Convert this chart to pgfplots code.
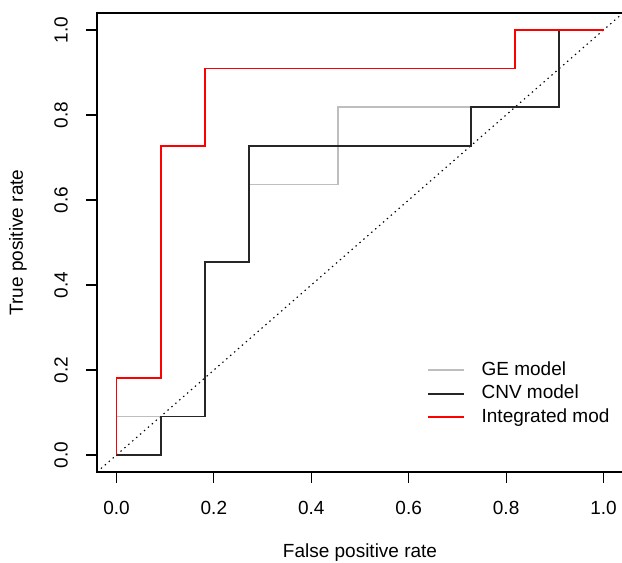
\documentclass[border=0pt]{standalone}
\usepackage{pgfplots}
\pgfplotsset{compat=1.18}
\usepackage{fontspec}
\setmainfont{Liberation Sans}
\definecolor{gegray}{RGB}{190,190,190}
\begin{document}
\fontsize{19}{22}\selectfont
\begin{tikzpicture}
\useasboundingbox (0,0) rectangle (622pt,563pt);
\begin{axis}[
  at={(97pt,91pt)}, anchor=south west,
  scale only axis, width=526pt, height=459pt,
  xmin=-0.04, xmax=1.04, ymin=-0.04, ymax=1.04,
  xtick={0,0.2,0.4,0.6,0.8,1.0}, ytick={0,0.2,0.4,0.6,0.8,1.0},
  xticklabels={0.0,0.2,0.4,0.6,0.8,1.0},
  yticklabels={0.0,0.2,0.4,0.6,0.8,1.0},
  xtick pos=bottom, ytick pos=left,
  tick align=outside, major tick length=11pt,
  tick style={black, line width=1.2pt},
  axis line style={line width=1.3pt},
  ticklabel style={font=\fontsize{19}{22}\selectfont, inner sep=0pt},
  xticklabel style={anchor=north, yshift=-18pt},
  yticklabel style={xshift=-18pt, rotate=90, anchor=south},
  xlabel={False positive rate},
  ylabel={True positive rate},
  xlabel style={at={(axis description cs:0.5,-0.187)}, anchor=base, font=\fontsize{19}{22}\selectfont},
  ylabel style={at={(axis description cs:-0.1407,0.5)}, anchor=base, rotate=0, font=\fontsize{19}{22}\selectfont},
  legend style={draw=none, fill=none, at={(axis cs:0.637,0.144)}, anchor=west,
    font=\fontsize{19}{22}\selectfont, inner sep=0pt, row sep=6pt, column sep=17pt,
    nodes={inner sep=0pt, text height=13.5pt, text depth=4pt, anchor=west}},
  legend cell align=left,
  legend image code/.code={\draw[#1] (0pt,0pt) -- (36pt,0pt);},
]
\addplot[black, line width=1.1pt, dash pattern=on 1.4pt off 3.8pt, forget plot] coordinates {(-0.04,-0.04) (1.04,1.04)};
\addplot[gegray, line width=1.7pt] coordinates {
(0,0) (0,0.0909) (0.1818,0.0909) (0.1818,0.4545) (0.2727,0.4545) (0.2727,0.6364) (0.4545,0.6364) (0.4545,0.8182) (0.9091,0.8182) (0.9091,1) (1,1)};
\addplot[black!85, line width=1.7pt] coordinates {
(0,0) (0.0909,0) (0.0909,0.0909) (0.1818,0.0909) (0.1818,0.4545) (0.2727,0.4545) (0.2727,0.7273) (0.7273,0.7273) (0.7273,0.8182) (0.9091,0.8182) (0.9091,1) (1,1)};
\addplot[red, line width=1.7pt] coordinates {
(0,0) (0,0.1818) (0.0909,0.1818) (0.0909,0.7273) (0.1818,0.7273) (0.1818,0.9091) (0.8182,0.9091) (0.8182,1) (1,1)};
\legend{GE model, CNV model, Integrated mod}
\end{axis}
\end{tikzpicture}
\end{document}
